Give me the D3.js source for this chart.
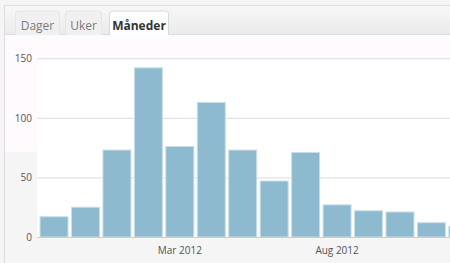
<!DOCTYPE html>
<html>
<head>
<meta charset="utf-8">
<title>Måneder</title>
<script src="https://d3js.org/d3.v7.min.js"></script>
<style>
  body { margin: 0; background: #f6f4f6; }
  svg { display: block; font-family: "Open Sans", sans-serif; }
</style>
</head>
<body>
<svg id="chart" width="450" height="263"></svg>
<script>
// data (one bar per month)
var months = ["2011-11", "2011-12", "2012-01", "2012-02", "2012-03", "2012-04", "2012-05",
              "2012-06", "2012-07", "2012-08", "2012-09", "2012-10", "2012-11", "2012-12"];
var values = [17, 25, 73, 142, 76, 113, 73, 47, 71, 27, 22, 21, 12, 9];
var xTicks = ["2012-03", "2012-08"];
var yTicks = [0, 50, 100, 150];
var tabs = ["Dager", "Uker", "Måneder"];
var monthNames = ["Jan","Feb","Mar","Apr","May","Jun","Jul","Aug","Sep","Oct","Nov","Dec"];

var svg = d3.select("#chart");

// page + panel
svg.append("rect").attr("width", 450).attr("height", 263).attr("fill", "#f6f4f6");
svg.append("rect")
  .attr("x", 4.5).attr("y", 5.5).attr("width", 500).attr("height", 300)
  .attr("fill", "#fefafe").attr("stroke", "#dedcde");

// tab bar with a soft gradient
var grad = svg.append("defs").append("linearGradient")
  .attr("id", "tabbar").attr("x1", 0).attr("x2", 0).attr("y1", 0).attr("y2", 1);
grad.append("stop").attr("offset", "0%").attr("stop-color", "#f8f7f8");
grad.append("stop").attr("offset", "100%").attr("stop-color", "#ebebeb");
svg.append("rect").attr("x", 5).attr("y", 6).attr("width", 445).attr("height", 28)
  .attr("fill", "url(#tabbar)");
svg.append("line").attr("x1", 5).attr("x2", 450).attr("y1", 34.5).attr("y2", 34.5)
  .attr("stroke", "#dcdcdc");

var tabBox = [[15, 45], [65, 37], [109, 60]];
tabs.forEach(function(t, i) {
  var active = i == tabs.length - 1;
  var bx = tabBox[i][0], bw = tabBox[i][1];
  svg.append("path")
    .attr("d", "M" + (bx + 0.5) + ",35 V14 q0,-3 3,-3 H" + (bx + bw - 3.5) + " q3,0 3,3 V35")
    .attr("fill", active ? "#ffffff" : "#f1f0f1")
    .attr("stroke", active ? "#dadada" : "#e6e6e6");
  svg.append("text")
    .attr("x", bx + bw / 2).attr("y", 29.5)
    .attr("text-anchor", "middle")
    .style("font-size", "12px")
    .style("font-weight", active ? "bold" : "normal")
    .style("fill", active ? "#333" : "#7a7a7a")
    .text(t);
});

// odd grey patches under and left of the plot
svg.append("rect").attr("x", 5).attr("y", 152).attr("width", 32).attr("height", 111).attr("fill", "#f5f5f5");
svg.append("rect").attr("x", 5).attr("y", 237).attr("width", 445).attr("height", 26).attr("fill", "#f5f5f5");

var plot = {left: 37, top: 58, right: 450, bottom: 237};
svg.append("rect")
  .attr("x", plot.left).attr("y", plot.top)
  .attr("width", plot.right - plot.left).attr("height", plot.bottom - plot.top)
  .attr("fill", "#ffffff");

var x = d3.scaleBand()
  .domain(months)
  .range([38.3, 38.3 + 14 * 31.45])
  .paddingInner(0.11)
  .paddingOuter(0.055);

var y = d3.scaleLinear()
  .domain([0, 150])
  .range([plot.bottom, plot.top + 0.3]);

// grid lines
var grid = svg.append("g")
  .attr("transform", "translate(" + plot.left + ",0)")
  .call(d3.axisRight(y).tickValues(yTicks.slice(1)).tickSize(plot.right - plot.left).tickFormat(""));
grid.select(".domain").remove();
grid.selectAll("line").attr("stroke", "#dcdcdc");

// y labels
var yAxis = svg.append("g")
  .attr("transform", "translate(" + plot.left + ",0)")
  .call(d3.axisLeft(y).tickValues(yTicks).tickSize(0).tickPadding(5));
yAxis.select(".domain").remove();
yAxis.selectAll("text").style("font-size", "10px").style("fill", "#545454")
  .style("font-family", "Open Sans, sans-serif");

// bars
svg.append("clipPath").attr("id", "plotclip").append("rect")
  .attr("x", plot.left).attr("y", 0).attr("width", plot.right - plot.left).attr("height", 263);

svg.append("g").attr("clip-path", "url(#plotclip)")
  .selectAll("rect")
  .data(months)
  .enter()
  .append("rect")
  .attr("x", function(d) { return x(d); })
  .attr("y", function(d, i) { return y(values[i]); })
  .attr("width", x.bandwidth())
  .attr("height", function(d, i) { return plot.bottom - y(values[i]); })
  .attr("fill", "#8dbace")
  .attr("stroke", "#c9dfe9")
  .attr("stroke-width", 1);

// x axis
svg.append("line")
  .attr("x1", plot.left).attr("x2", plot.right)
  .attr("y1", plot.bottom + 0.5).attr("y2", plot.bottom + 0.5)
  .attr("stroke", "#cccccc");

var xAxis = svg.append("g")
  .attr("transform", "translate(0," + plot.bottom + ")")
  .call(d3.axisBottom(x).tickValues(xTicks).tickSize(0).tickPadding(10)
    .tickFormat(function(d) {
      var p = d.split("-");
      return monthNames[+p[1] - 1] + " " + p[0];
    }));
xAxis.select(".domain").remove();
xAxis.selectAll("text").style("font-size", "10px").style("fill", "#545454")
  .style("font-family", "Open Sans, sans-serif");
</script>
</body>
</html>
